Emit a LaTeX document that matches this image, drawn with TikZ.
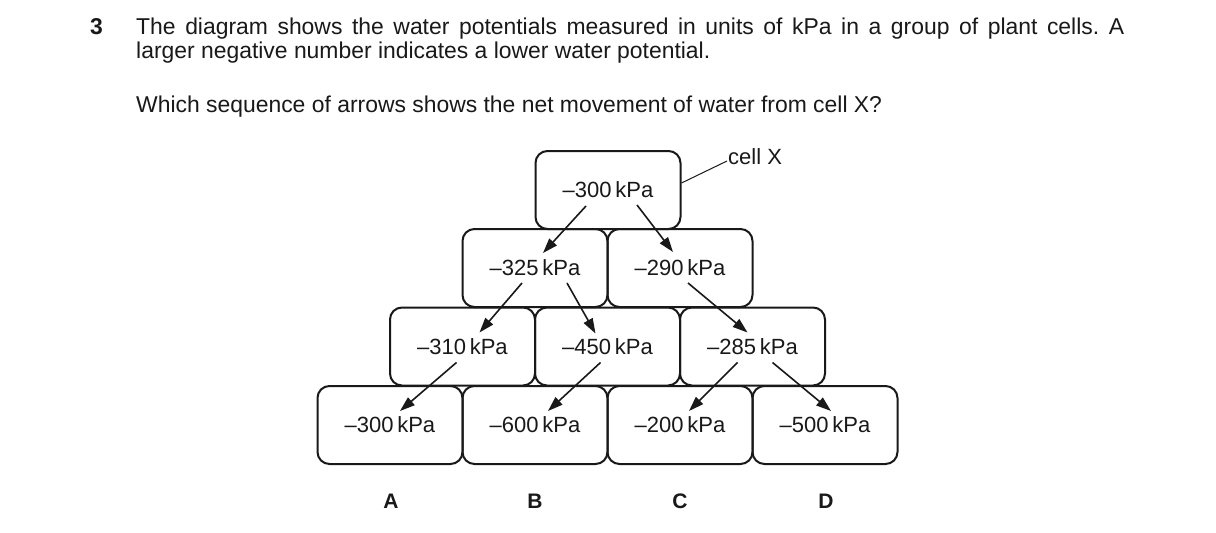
\documentclass[tikz,border=0pt]{standalone}
\usepackage{fontspec}
\setmainfont{Liberation Sans}
\usetikzlibrary{arrows.meta,calc}
\definecolor{ink}{gray}{0.1}
\frenchspacing
\tikzset{
  cellbox/.style={draw=ink, line width=2pt, rounded corners=12pt,
    minimum width=145pt, minimum height=78pt, inner sep=0pt,
    font=\fontsize{22}{24}\selectfont, text=ink},
  arr/.style={draw=ink, line width=1.6pt, -{Triangle[length=15pt,width=10pt]}},
  optlabel/.style={font=\bfseries\fontsize{21}{24}\selectfont, text=ink, anchor=base},
  txt/.style={font=\fontsize{22.9}{24}\selectfont, text=ink, anchor=base west, inner sep=0pt}
}
\begin{document}
\begin{tikzpicture}[x=1pt,y=-1pt]
\useasboundingbox (0,0) rectangle (1216,533);
\fill[white] (0,0) rectangle (1216,533);

% question text
\node[txt, font=\bfseries\fontsize{22.9}{24}\selectfont] (qn) at (90,34) {3};
\node[txt] (l1) at (136,34) {\makebox[988pt][s]{The diagram shows the water potentials measured in units of kPa in a group of plant cells. A}};
\node[txt] (l2) at (136,58) {larger negative number indicates a lower water potential.};
\node[txt] (l3) at (136,112) {Which sequence of arrows shows the net movement of water from cell X?};

% cells
\node[cellbox] (t)  at (608,190)   {–300\,kPa};
\node[cellbox] (m1) at (535,268)   {–325\,kPa};
\node[cellbox] (m2) at (680,268)   {–290\,kPa};
\node[cellbox] (r1) at (462.5,346.5) {–310\,kPa};
\node[cellbox] (r2) at (607.5,346.5) {–450\,kPa};
\node[cellbox] (r3) at (752.5,346.5) {–285\,kPa};
\node[cellbox] (b1) at (390,425)   {–300\,kPa};
\node[cellbox] (b2) at (535,425)   {–600\,kPa};
\node[cellbox] (b3) at (680,425)   {–200\,kPa};
\node[cellbox] (b4) at (825,425)   {–500\,kPa};

% cell X label
\node[font=\fontsize{22}{24}\selectfont, text=ink, anchor=base west, inner sep=0pt] (cx) at (728,164) {cell X};
\coordinate (cxl) at (727,161);
\draw[ink, line width=1pt] ($(t.east)+(0,-7)$) -- (cxl);

% arrows
\draw[arr] ($(t)+(-22,16)$) -- ($(m1)+(8,-15)$);
\draw[arr] ($(t)+(29,15)$) -- ($(m2)+(-7,-16)$);
\draw[arr] ($(m1)+(-13,15)$) -- ($(r1)+(17,-14)$);
\draw[arr] ($(m1)+(32,15)$) -- ($(r2)+(-12,-13)$);
\draw[arr] ($(m2)+(8,15)$) -- ($(r3)+(-5,-14)$);
\draw[arr] ($(r1)+(-6,16)$) -- ($(b1)+(10,-14)$);
\draw[arr] ($(r2)+(-7,16)$) -- ($(b2)+(13,-14)$);
\draw[arr] ($(r3)+(-15,16)$) -- ($(b3)+(9,-14)$);
\draw[arr] ($(r3)+(20,16)$) -- ($(b4)+(6,-14)$);

% option labels
\node[optlabel] (A) at (391,508) {A};
\node[optlabel] (B) at (535,508) {B};
\node[optlabel] (C) at (680,508) {C};
\node[optlabel] (D) at (826,508) {D};
\end{tikzpicture}
\end{document}
